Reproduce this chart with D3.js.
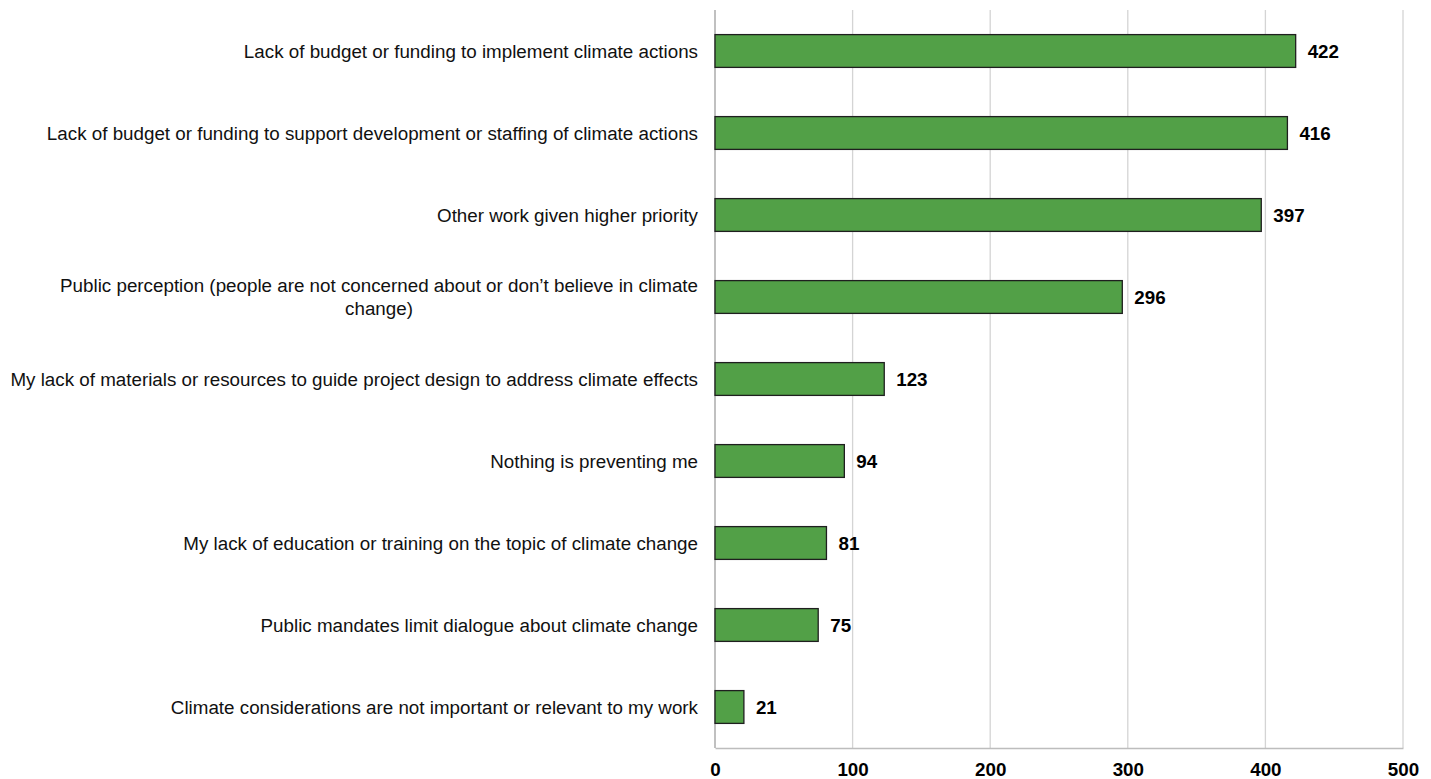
<!DOCTYPE html>
<html>
<head>
<meta charset="utf-8">
<script src="https://cdn.jsdelivr.net/npm/d3@7"></script>
<style>
  html, body { margin: 0; padding: 0; background: #fff; }
  svg { display: block; font-family: "Liberation Sans", Arial, sans-serif; }
</style>
</head>
<body>
<svg id="chart" width="1431" height="779"></svg>
<script>
// Barriers to climate action, number of responses
const categories = [
  "Lack of budget or funding to implement climate actions",
  "Lack of budget or funding to support development or staffing of climate actions",
  "Other work given higher priority",
  "Public perception (people are not concerned about or don\u2019t believe in climate|change)",
  "My lack of materials or resources to guide project design to address climate effects",
  "Nothing is preventing me",
  "My lack of education or training on the topic of climate change",
  "Public mandates limit dialogue about climate change",
  "Climate considerations are not important or relevant to my work"
];
const counts = [422, 416, 397, 296, 123, 94, 81, 75, 21];
const tickValues = [0, 100, 200, 300, 400, 500];

const svg = d3.select("#chart");
const plot = { left: 715, right: 1403, top: 10, bottom: 748 };
const fs = 18.8;

const x = d3.scaleLinear().domain([0, 500]).range([plot.left, plot.right]);
const y = d3.scaleBand()
  .domain(categories)
  .range([plot.top, plot.bottom])
  .paddingInner(0.6)
  .paddingOuter(0.3);

// vertical gridlines
svg.append("g")
  .selectAll("line")
  .data(tickValues.filter(d => d > 0))
  .join("line")
  .attr("x1", d => x(d)).attr("x2", d => x(d))
  .attr("y1", plot.top).attr("y2", plot.bottom)
  .attr("stroke", "#d4d4d4").attr("stroke-width", 1.3);

// x axis
const xAxis = svg.append("g")
  .attr("transform", `translate(0,${plot.bottom})`)
  .call(d3.axisBottom(x).tickValues(tickValues).tickSize(0).tickPadding(15));
xAxis.select(".domain").attr("stroke", "#bdbdbd").attr("stroke-width", 1.3);
xAxis.selectAll("text")
  .attr("font-size", fs).attr("font-weight", "bold").attr("fill", "#000")
  .attr("font-family", "Liberation Sans, Arial, sans-serif");

// y axis line
svg.append("line")
  .attr("x1", plot.left).attr("x2", plot.left)
  .attr("y1", plot.top).attr("y2", plot.bottom)
  .attr("stroke", "#9e9e9e").attr("stroke-width", 1.3);

// bars
svg.append("g")
  .selectAll("rect")
  .data(categories)
  .join("rect")
  .attr("x", x(0))
  .attr("y", d => y(d))
  .attr("width", (d, i) => x(counts[i]) - x(0))
  .attr("height", y.bandwidth())
  .attr("fill", "#52a047")
  .attr("stroke", "#1f1f1f")
  .attr("stroke-width", 1.3);

// value labels
svg.append("g")
  .selectAll("text")
  .data(categories)
  .join("text")
  .attr("x", (d, i) => x(counts[i]) + 12)
  .attr("y", d => y(d) + y.bandwidth() / 2)
  .attr("dy", "0.35em")
  .attr("font-size", fs)
  .attr("font-weight", "bold")
  .attr("fill", "#000")
  .text((d, i) => counts[i]);

// category labels (right aligned, wrapped lines centred on the first line)
const labelRight = 698;
const labels = svg.append("g");
categories.forEach(cat => {
  const lines = cat.split("|");
  const cy = y(cat) + y.bandwidth() / 2;
  const lh = 23;
  if (lines.length === 1) {
    labels.append("text")
      .attr("x", labelRight).attr("y", cy).attr("dy", "0.35em")
      .attr("text-anchor", "end").attr("font-size", fs).attr("fill", "#111")
      .text(lines[0]);
  } else {
    const first = labels.append("text")
      .attr("x", labelRight).attr("y", cy - lh / 2).attr("dy", "0.35em")
      .attr("text-anchor", "end").attr("font-size", fs).attr("fill", "#111")
      .text(lines[0]);
    const w = first.node().getComputedTextLength();
    const center = labelRight - w / 2;
    labels.append("text")
      .attr("x", center).attr("y", cy + lh / 2).attr("dy", "0.35em")
      .attr("text-anchor", "middle").attr("font-size", fs).attr("fill", "#111")
      .text(lines[1]);
  }
});
</script>
</body>
</html>
